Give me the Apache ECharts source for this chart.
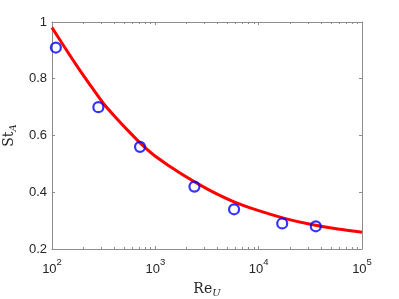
<!DOCTYPE html>
<html>
<head>
<meta charset="utf-8">
<script src="https://cdn.jsdelivr.net/npm/echarts@6/dist/echarts.min.js"></script>
<style>
html,body{margin:0;padding:0;background:#fff;}
#c{width:399px;height:299px;}
</style>
</head>
<body>
<div id="c"></div>
<script>
// Measured points
const reData = [109, 281, 711, 2390, 5780, 16900, 35700];
const stData = [0.91, 0.70, 0.56, 0.42, 0.34, 0.29, 0.28];
// Fitted curve
const fitRe = [100, 133, 178, 237, 316, 422, 562, 750, 1000, 1778, 3162, 5623, 10000, 17783, 31623, 56234, 100000];
const fitSt = [0.98, 0.91, 0.84, 0.775, 0.712, 0.66, 0.612, 0.566, 0.527, 0.465, 0.412, 0.368, 0.335, 0.308, 0.287, 0.271, 0.259];
// Ticks
const xMajor = [100, 1000, 10000, 100000];
const xMinor = [200,300,400,500,600,700,800,900,2000,3000,4000,5000,6000,7000,8000,9000,20000,30000,40000,50000,60000,70000,80000,90000];
const yTicks = [0.2, 0.4, 0.6, 0.8, 1];

const axisGray = '#8c8c8c';
const labelColor = '#262626';
const sansFont = 'Liberation Sans, Arial, sans-serif';
const serifFont = 'DejaVu Serif, Liberation Serif, serif';

function expLabel(v) {
  const e = Math.round(Math.log10(v));
  return '{b|10}{s|' + e + '}';
}

const chart = echarts.init(document.getElementById('c'), null, {renderer: 'canvas'});
const baseX = {
  type: 'log', min: 100, max: 100000, logBase: 10,
  splitLine: {show: false}, minorSplitLine: {show: false}
};
chart.setOption({
  animation: false,
  backgroundColor: '#fff',
  grid: {left: 52, right: 37, top: 22, bottom: 50, containLabel: false, outerBoundsMode: 'none'},
  xAxis: [
    Object.assign({}, baseX, {
      position: 'bottom',
      name: '{n|Re}{u|U}',
      nameLocation: 'middle',
      nameGap: 32,
      nameTextStyle: {
        rich: {
          n: {fontFamily: serifFont, fontSize: 14, color: labelColor},
          u: {fontFamily: serifFont, fontSize: 10, fontStyle: 'italic', color: labelColor, verticalAlign: 'bottom', padding: [7, 0, 0, 0]}
        }
      },
      axisLine: {show: true, lineStyle: {color: axisGray, width: 1}},
      axisTick: {show: true, inside: true, length: 3, lineStyle: {color: axisGray}, customValues: xMajor},
      axisLabel: {
        show: true, margin: 8, customValues: xMajor,
        formatter: expLabel,
        rich: {
          b: {fontFamily: sansFont, fontSize: 13, color: labelColor, padding: [6, 0, 0, 0]},
          s: {fontFamily: sansFont, fontSize: 9.5, color: labelColor, verticalAlign: 'top', padding: [0, 0, 6, 0]}
        }
      }
    }),
    Object.assign({}, baseX, {
      position: 'bottom',
      axisLine: {show: false},
      axisTick: {show: true, inside: true, length: 2, lineStyle: {color: axisGray}, customValues: xMinor},
      axisLabel: {show: false}
    }),
    Object.assign({}, baseX, {
      position: 'top',
      axisLine: {show: true, lineStyle: {color: axisGray, width: 1}},
      axisTick: {show: true, inside: true, length: 3, lineStyle: {color: axisGray}, customValues: xMajor},
      axisLabel: {show: false}
    }),
    Object.assign({}, baseX, {
      position: 'top',
      axisLine: {show: false},
      axisTick: {show: true, inside: true, length: 2, lineStyle: {color: axisGray}, customValues: xMinor},
      axisLabel: {show: false}
    })
  ],
  yAxis: [
    {
      type: 'value', min: 0.2, max: 1, interval: 0.2, position: 'left',
      name: '{n|St}{a|A}',
      nameLocation: 'middle',
      nameGap: 33,
      nameRotate: 90,
      nameTextStyle: {
        rich: {
          n: {fontFamily: serifFont, fontSize: 14, color: labelColor},
          a: {fontFamily: serifFont, fontSize: 10, fontStyle: 'italic', color: labelColor, verticalAlign: 'bottom', padding: [7, 0, 0, 0]}
        }
      },
      splitLine: {show: false},
      axisLine: {show: true, lineStyle: {color: axisGray, width: 1}},
      axisTick: {show: true, inside: true, length: 3, lineStyle: {color: axisGray}},
      axisLabel: {
        show: true, margin: 5, fontFamily: sansFont, fontSize: 13, color: labelColor,
        customValues: yTicks,
        formatter: v => String(Math.round(v * 10) / 10)
      }
    },
    {
      type: 'value', min: 0.2, max: 1, interval: 0.2, position: 'right',
      splitLine: {show: false},
      axisLine: {show: true, lineStyle: {color: axisGray, width: 1}},
      axisTick: {show: true, inside: true, length: 3, lineStyle: {color: axisGray}},
      axisLabel: {show: false}
    }
  ],
  series: [
    {
      type: 'line',
      xAxisIndex: 0, yAxisIndex: 0,
      data: fitRe.map((r, i) => [r, fitSt[i]]),
      smooth: 0.2,
      showSymbol: false,
      symbol: 'none',
      lineStyle: {color: '#ff0000', width: 3},
      z: 2
    },
    {
      type: 'scatter',
      xAxisIndex: 0, yAxisIndex: 0,
      data: reData.map((r, i) => [r, stData[i]]),
      symbol: 'circle',
      symbolSize: 10,
      itemStyle: {color: 'rgba(0,0,0,0)', borderColor: '#0000ff', borderWidth: 2.2},
      z: 3
    }
  ]
});
</script>
</body>
</html>
